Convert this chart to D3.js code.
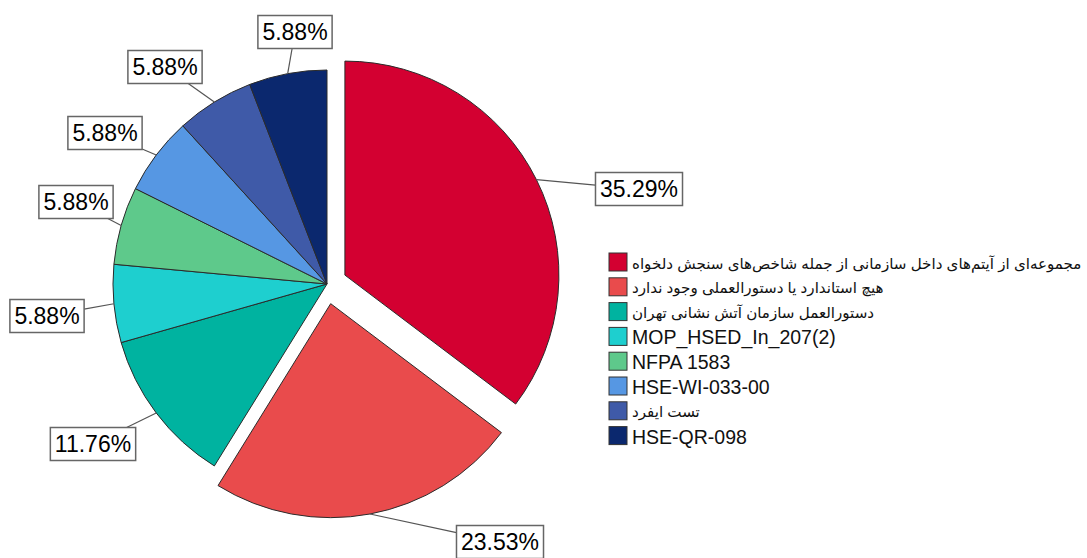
<!DOCTYPE html>
<html>
<head>
<meta charset="utf-8">
<script src="https://cdn.jsdelivr.net/npm/d3@7"></script>
<style>
  body { margin: 0; background: #fff; }
  svg { display: block; }
</style>
</head>
<body>
<div id="chart"></div>
<script>
// data
var categories = [
  "مجموعه‌ای از آیتم‌های داخل سازمانی از جمله شاخص‌های سنجش دلخواه",
  "هیچ استاندارد یا دستورالعملی وجود ندارد",
  "دستورالعمل سازمان آتش نشانی تهران",
  "MOP_HSED_In_207(2)",
  "NFPA 1583",
  "HSE-WI-033-00",
  "تست ایفرد",
  "HSE-QR-098"
];
var counts = [6, 4, 2, 1, 1, 1, 1, 1];
var percentLabels = ["35.29%", "23.53%", "11.76%", "5.88%", "5.88%", "5.88%", "5.88%", "5.88%"];
var exploded = [true, true, false, false, false, false, false, false];

var colors = ["#d30031", "#e94b4c", "#00b3a0", "#1ecfcf", "#5ec98b", "#5697e3", "#3f5aa8", "#0b286e"];

// label box centres (layout)
var labelCenters = [[639, 189], [500, 542], [93, 444], [47, 316], [76, 202], [105, 133], [165, 67], [295, 32]];

var W = 1087, H = 558;
var cx = 327, cy = 284, r = 214, explode = 20;

var svg = d3.select("#chart").append("svg")
  .attr("width", W).attr("height", H);

var pie = d3.pie().sort(null).value(function(d){ return d; });
var arcs = pie(counts);
var arc = d3.arc().innerRadius(0).outerRadius(r);

function offsetOf(d, i){
  var m = (d.startAngle + d.endAngle) / 2;
  var o = exploded[i] ? explode : 0;
  return [Math.sin(m) * o, -Math.cos(m) * o];
}

var g = svg.append("g").attr("transform", "translate(" + cx + "," + cy + ")");

g.selectAll("path")
  .data(arcs)
  .enter().append("path")
  .attr("d", arc)
  .attr("transform", function(d, i){
    var o = offsetOf(d, i);
    return "translate(" + o[0] + "," + o[1] + ")";
  })
  .attr("fill", function(d, i){ return colors[i]; })
  .attr("stroke", "#2b2b2b")
  .attr("stroke-width", 1);

// labels with leader lines
var lab = svg.append("g");
arcs.forEach(function(d, i){
  var m = (d.startAngle + d.endAngle) / 2;
  var o = offsetOf(d, i);
  var sx = cx + o[0] + Math.sin(m) * r;
  var sy = cy + o[1] - Math.cos(m) * r;
  var c = labelCenters[i];

  var t = lab.append("text")
    .attr("x", c[0]).attr("y", c[1])
    .attr("text-anchor", "middle")
    .attr("dominant-baseline", "central")
    .style("font-family", "Arial, 'Liberation Sans', sans-serif")
    .style("font-size", "23px")
    .attr("fill", "#000")
    .text(percentLabels[i]);
  var tw = t.node().getComputedTextLength();
  var bw = tw + 9, bh = 33;
  var bx = c[0] - bw / 2, by = c[1] - bh / 2;

  // clip leader at the box edge
  var dx = c[0] - sx, dy = c[1] - sy;
  var tx = dx !== 0 ? (bw / 2) / Math.abs(dx) : Infinity;
  var ty = dy !== 0 ? (bh / 2) / Math.abs(dy) : Infinity;
  var k = 1 - Math.min(tx, ty, 1);
  var ex = sx + dx * k, ey = sy + dy * k;

  lab.insert("line", "text")
    .attr("x1", sx).attr("y1", sy).attr("x2", ex).attr("y2", ey)
    .attr("stroke", "#555").attr("stroke-width", 1.2);
  lab.insert("rect", "text")
    .attr("x", bx).attr("y", by).attr("width", bw).attr("height", bh)
    .attr("fill", "#fff").attr("stroke", "#666").attr("stroke-width", 1.5);
});

// legend
var legend = svg.append("g").attr("transform", "translate(609,253)");
var item = legend.selectAll("g")
  .data(categories)
  .enter().append("g")
  .attr("transform", function(d, i){ return "translate(0," + (i * 24.8) + ")"; });

item.append("rect")
  .attr("width", 18).attr("height", 18)
  .attr("fill", function(d, i){ return colors[i]; })
  .attr("stroke", "#333").attr("stroke-width", 1);

var isRtl = function(s){ return /[\u0600-\u06FF]/.test(s); };

var texts = item.append("text")
  .attr("x", 23).attr("y", 10)
  .attr("dominant-baseline", "central")
  .style("font-family", "Arial, 'Liberation Sans', 'DejaVu Sans', sans-serif")
  .style("font-size", "19.5px")
  .attr("fill", "#111")
  .text(function(d){ return d; });

// shrink persian lines so the longest one fits the space right of the legend
var fa = texts.filter(function(d){ return isRtl(d); });
var longest = d3.max(fa.nodes(), function(n){ return n.getComputedTextLength(); });
var faSize = Math.min(19.5, 19.5 * 450 / longest);
fa.style("font-size", faSize + "px");
</script>
</body>
</html>
